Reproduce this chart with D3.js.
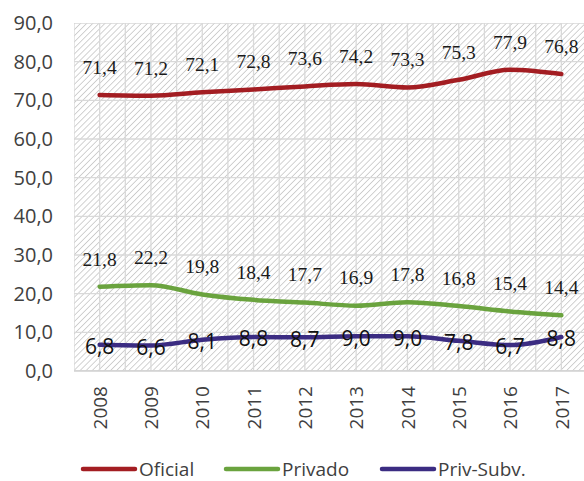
<!DOCTYPE html>
<html>
<head>
<meta charset="utf-8">
<script src="https://cdn.jsdelivr.net/npm/d3@7"></script>
<style>
  body { margin: 0; background: #fff; }
</style>
</head>
<body>
<div id="chart"></div>
<script>
// data
const years = ["2008", "2009", "2010", "2011", "2012", "2013", "2014", "2015", "2016", "2017"];
const oficial = [71.4, 71.2, 72.1, 72.8, 73.6, 74.2, 73.3, 75.3, 77.9, 76.8];
const privado = [21.8, 22.2, 19.8, 18.4, 17.7, 16.9, 17.8, 16.8, 15.4, 14.4];
const privSubv = [6.8, 6.6, 8.1, 8.8, 8.7, 9.0, 9.0, 7.8, 6.7, 8.8];
const yTicks = [0, 10, 20, 30, 40, 50, 60, 70, 80, 90];

const width = 584, height = 481;
const margin = { top: 23, right: -3, bottom: 110, left: 74 };

const svg = d3.select("#chart")
  .append("svg")
  .attr("width", width)
  .attr("height", height)
  .attr("viewBox", [0, 0, width, height]);

const xScale = d3.scalePoint()
  .domain(years)
  .range([margin.left, width - margin.right])
  .padding(0.5);

const yScale = d3.scaleLinear()
  .domain([0, 90])
  .range([height - margin.bottom, margin.top]);

const step = xScale.step();
const plotRight = width - margin.right;
const sans = "'Open Sans', 'Liberation Sans', sans-serif";

// hatch pattern for plot background
const defs = svg.append("defs");
const pat = defs.append("pattern")
  .attr("id", "hatch")
  .attr("patternUnits", "userSpaceOnUse")
  .attr("width", 4.3)
  .attr("height", 4.3)
  .attr("patternTransform", "rotate(45)");
pat.append("line")
  .attr("x1", 0).attr("y1", 0).attr("x2", 0).attr("y2", 4.3)
  .attr("stroke", "#bfbfbf")
  .attr("stroke-width", 1.4);

defs.append("clipPath").attr("id", "clip")
  .append("rect")
  .attr("x", margin.left).attr("y", margin.top)
  .attr("width", width - margin.left)
  .attr("height", yScale(0) - margin.top);

const plot = svg.append("g").attr("clip-path", "url(#clip)");

plot.append("rect")
  .attr("x", margin.left)
  .attr("y", margin.top)
  .attr("width", plotRight - margin.left)
  .attr("height", yScale(0) - margin.top)
  .attr("fill", "url(#hatch)");

// horizontal gridlines
plot.selectAll(".hgrid")
  .data(yTicks)
  .enter()
  .append("line")
    .attr("x1", margin.left)
    .attr("x2", plotRight)
    .attr("y1", d => yScale(d))
    .attr("y2", d => yScale(d))
    .attr("stroke", "#d9d9d9")
    .attr("stroke-width", 1.3);

// vertical gridlines at category centres and borders
const vlines = [];
years.forEach(y => { vlines.push(xScale(y) - step / 2); vlines.push(xScale(y)); });
vlines.push(xScale(years[years.length - 1]) + step / 2);
plot.selectAll(".vgrid")
  .data(vlines)
  .enter()
  .append("line")
    .attr("x1", d => d)
    .attr("x2", d => d)
    .attr("y1", margin.top)
    .attr("y2", yScale(0))
    .attr("stroke", "#d9d9d9")
    .attr("stroke-width", 1.3);

// bottom axis line
svg.append("line")
  .attr("x1", margin.left).attr("x2", plotRight)
  .attr("y1", yScale(0)).attr("y2", yScale(0))
  .attr("stroke", "#d0d0d0").attr("stroke-width", 1.5);

// y axis
const yAxis = svg.append("g")
  .attr("transform", `translate(${margin.left}, 0)`)
  .call(d3.axisLeft(yScale).tickValues(yTicks).tickSize(0).tickPadding(21)
    .tickFormat(d => d3.format(".1f")(d).replace(".", ",")));
yAxis.select(".domain").remove();
yAxis.selectAll("text")
  .attr("font-family", sans)
  .attr("font-size", "20px")
  .attr("fill", "#404040");

// x axis labels, rotated
const xAxis = svg.append("g")
  .attr("transform", `translate(0, ${yScale(0)})`)
  .call(d3.axisBottom(xScale).tickSize(0));
xAxis.select(".domain").remove();
xAxis.selectAll("text")
  .attr("font-family", sans)
  .attr("font-size", "19px")
  .attr("fill", "#404040")
  .attr("transform", "rotate(-90)")
  .attr("text-anchor", "end")
  .attr("x", -15)
  .attr("y", 0)
  .attr("dy", "0.35em");

const series = [
  { name: "Oficial", values: oficial, color: "#a31d22", labelDy: -28, serif: true },
  { name: "Privado", values: privado, color: "#6aa33e", labelDy: -28, serif: true },
  { name: "Priv-Subv.", values: privSubv, color: "#3b2c82", labelDy: 2, serif: false }
];

const line = d3.line()
  .x((d, i) => xScale(years[i]))
  .y(d => yScale(d))
  .curve(d3.curveMonotoneX);

series.forEach(s => {
  svg.append("path")
    .datum(s.values)
    .attr("fill", "none")
    .attr("stroke", s.color)
    .attr("stroke-width", 4.5)
    .attr("stroke-linecap", "round")
    .attr("d", line);
});

series.forEach(s => {
  svg.selectAll(null)
    .data(s.values)
    .enter()
    .append("text")
      .attr("x", (d, i) => xScale(years[i]))
      .attr("y", d => yScale(d) + s.labelDy)
      .attr("dy", "0.35em")
      .attr("text-anchor", "middle")
      .attr("font-family", s.serif ? "'Liberation Serif', 'Times New Roman', serif" : sans)
      .attr("font-size", s.serif ? "19.5px" : "21px")
      .attr("fill", s.serif ? "#1a1a1a" : "#111")
      .text(d => d3.format(".1f")(d).replace(".", ","));
});

// legend
const legendX = [83, 226, 382];
const legend = svg.append("g");
series.forEach((s, i) => {
  legend.append("line")
    .attr("x1", legendX[i]).attr("x2", legendX[i] + 52)
    .attr("y1", 469).attr("y2", 469)
    .attr("stroke", s.color)
    .attr("stroke-width", 4.5)
    .attr("stroke-linecap", "round");
  legend.append("text")
    .attr("x", legendX[i] + 56)
    .attr("y", 469)
    .attr("dy", "0.35em")
    .attr("font-family", sans)
    .attr("font-size", "19px")
    .attr("fill", "#404040")
    .text(s.name);
});
</script>
</body>
</html>
